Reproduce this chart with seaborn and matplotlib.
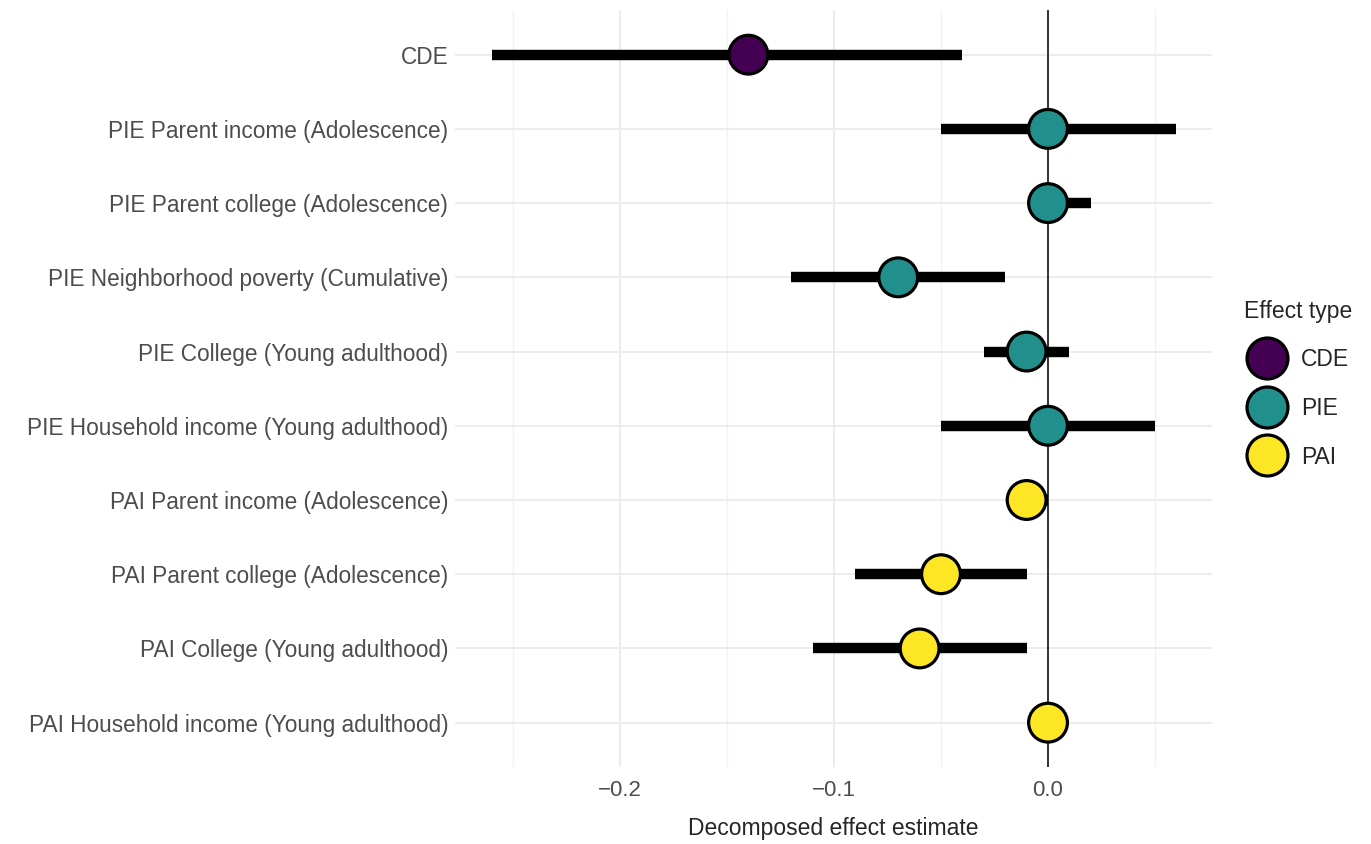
import matplotlib
matplotlib.use("Agg")
import matplotlib.pyplot as plt
import seaborn as sns
import pandas as pd
from matplotlib.lines import Line2D

# values
labels = [
    "CDE",
    "PIE Parent income (Adolescence)",
    "PIE Parent college (Adolescence)",
    "PIE Neighborhood poverty (Cumulative)",
    "PIE College (Young adulthood)",
    "PIE Household income (Young adulthood)",
    "PAI Parent income (Adolescence)",
    "PAI Parent college (Adolescence)",
    "PAI College (Young adulthood)",
    "PAI Household income (Young adulthood)",
]
effect_type = ["CDE", "PIE", "PIE", "PIE", "PIE", "PIE", "PAI", "PAI", "PAI", "PAI"]
estimate = [-0.14, 0.0, 0.0, -0.07, -0.01, 0.0, -0.01, -0.05, -0.06, 0.0]
lower = [-0.26, -0.05, 0.0, -0.12, -0.03, -0.05, -0.01, -0.09, -0.11, -0.005]
upper = [-0.04, 0.06, 0.02, -0.02, 0.01, 0.05, 0.0, -0.01, -0.01, 0.005]

type_order = ["CDE", "PIE", "PAI"]
colors = {"CDE": "#440154", "PIE": "#21908C", "PAI": "#FDE725"}

df = pd.DataFrame({"label": labels, "type": effect_type, "est": estimate,
                   "lo": lower, "hi": upper})

sns.set_style("white")
plt.rcParams['font.family'] = ['Liberation Sans', 'DejaVu Sans']

fig = plt.figure(figsize=(13.71, 8.44), dpi=100)
ax = fig.add_axes([0.332, 0.091, 0.552, 0.897])

# grid like ggplot theme_minimal
for x in [-0.25, -0.15, -0.05, 0.05]:
    ax.axvline(x, color="#f2f2f2", lw=1.0, zorder=0)
ax.set_xticks([-0.2, -0.1, 0.0])
ax.grid(axis="x", color="#ebebeb", lw=1.3, zorder=0)
ax.grid(axis="y", color="#ebebeb", lw=1.3, zorder=0)
ax.set_axisbelow(True)

ax.axvline(0, color="black", lw=1.1, zorder=1)
ax.hlines(y=df["label"], xmin=df["lo"], xmax=df["hi"], color="black", lw=7.5, zorder=2)
sns.scatterplot(data=df, x="est", y="label", hue="type", hue_order=type_order,
                palette=colors, s=780, edgecolor="black", linewidth=2.3,
                zorder=3, legend=False, ax=ax)

ax.set_ylim(len(labels) - 0.4, -0.6)
ax.set_xlim(-0.277, 0.0766)
for s in ax.spines.values():
    s.set_visible(False)
ax.tick_params(axis="both", length=0, labelcolor="#4d4d4d")
ax.tick_params(axis="y", pad=5, labelsize=16.3)
ax.tick_params(axis="x", pad=9, labelsize=16)
ax.set_xticklabels(["\u22120.2", "\u22120.1", "0.0"])
ax.set_xlabel("Decomposed effect estimate", fontsize=16.5, labelpad=12)
ax.set_ylabel("")

handles = [Line2D([], [], marker="o", ls="", markersize=29.5, markerfacecolor=colors[t],
                  markeredgecolor="black", markeredgewidth=2.3) for t in type_order]
leg = fig.legend(handles, type_order, title="Effect type", loc="center left",
                 bbox_to_anchor=(0.9005, 0.545), frameon=False, fontsize=16.5,
                 title_fontsize=16.5, labelspacing=1.12, handletextpad=0.5,
                 borderaxespad=0)
leg._legend_box.align = "left"

fig.savefig("out.png", dpi=100)
